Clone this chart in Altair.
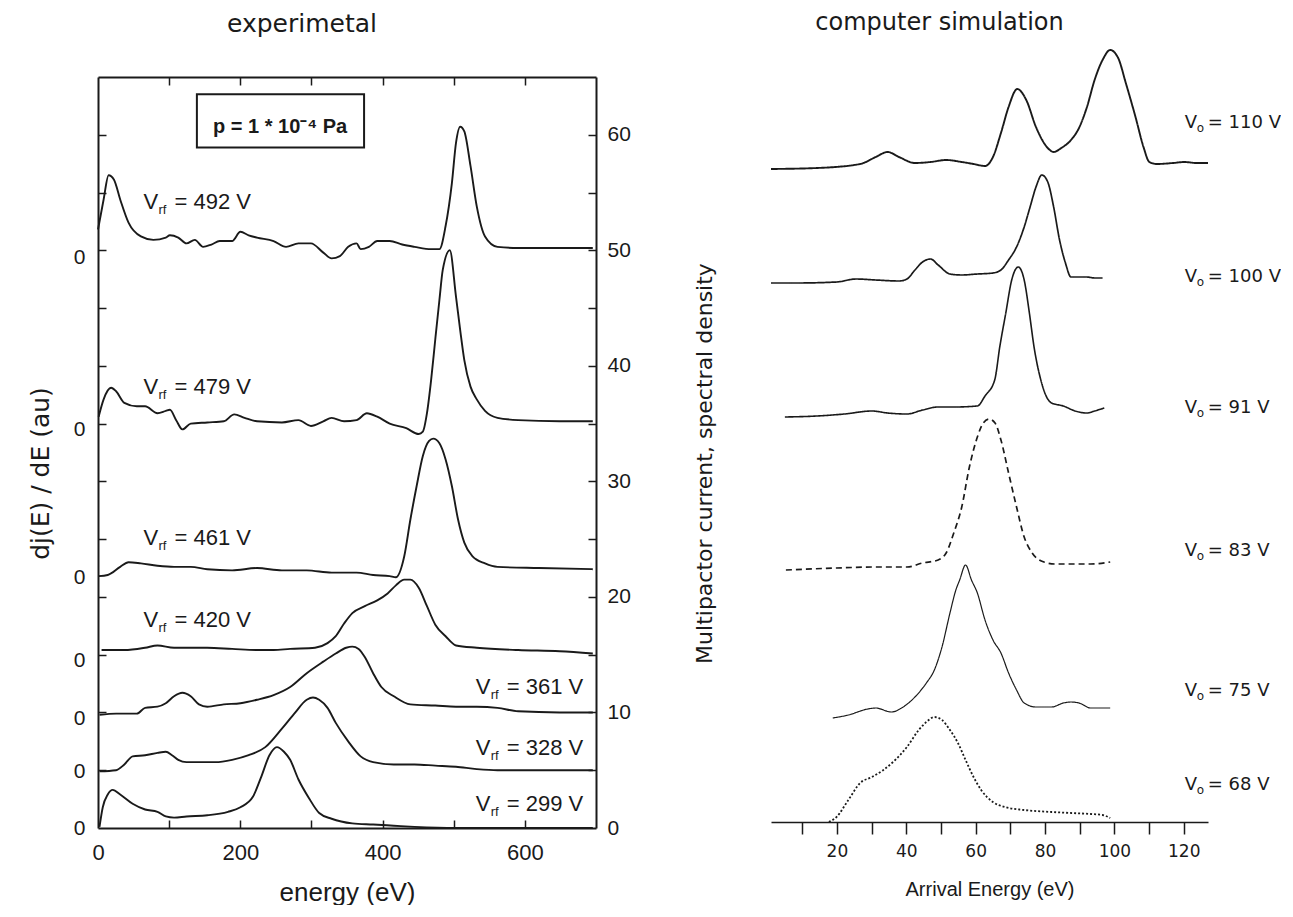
import altair as alt
import pandas as pd

INK = "#1a1a1a"
SANS = "Liberation Sans"
WIDE = "DejaVu Sans"

# ---------------- left panel: experimental spectra (energy in eV, offset spectra on right axis) ----------------
e492 = [0, 7.9, 14.9, 22.5, 31.2, 42.9, 60.3, 77.8, 95.3, 101.1, 112.8, 124.4, 136.1, 147.7, 159.4, 171.1, 188.5, 200.2, 211.8, 223.5,
        246.8, 264.3, 281.8, 299.3, 316.7, 328.4, 340.0, 351.7, 363.4, 369.2, 380.8, 392.5, 410.0, 427.5, 444.9, 468.3, 479.9, 488.6, 497.4, 503.2,
        509.1, 514.9, 523.6, 532.4, 544.0, 561.5, 590.6, 619.8, 648.9, 695.5]
v492 = [51.8, 54.4, 56.5, 56.1, 54.4, 52.4, 51.2, 50.9, 51.1, 51.3, 51.1, 50.6, 50.9, 50.3, 50.5, 50.8, 50.8, 51.6, 51.3, 51.1,
        50.8, 50.3, 50.6, 50.6, 49.8, 49.3, 49.5, 50.3, 50.6, 50.1, 50.3, 50.8, 50.8, 50.5, 50.3, 50.1, 50.1, 52.1, 55.8, 59.3,
        60.7, 60.3, 57.3, 53.8, 51.2, 50.3, 50.2, 50.2, 50.2, 50.2]
e479 = [0.9, 7.9, 18.4, 25.4, 37.0, 54.5, 66.2, 83.6, 95.3, 101.1, 109.9, 118.6, 130.3, 153.6, 176.9, 191.5, 206.0, 223.5, 258.5, 281.8,
        299.3, 316.7, 328.4, 345.9, 363.4, 377.9, 392.5, 410.0, 433.3, 450.8, 456.6, 462.4, 468.3, 474.1, 479.9, 484.6, 494.5, 503.2, 509.1, 514.9,
        523.6, 532.4, 544.0, 561.5, 590.6, 648.9, 695.5]
v479 = [35.6, 37.1, 38.1, 37.8, 36.8, 36.5, 36.5, 35.9, 36.1, 36.2, 35.3, 34.5, 35.0, 35.1, 35.2, 35.8, 35.5, 35.2, 35.1, 35.3,
        34.8, 35.2, 35.5, 35.2, 35.3, 35.9, 35.6, 35.0, 34.6, 34.1, 34.3, 35.9, 38.8, 42.3, 45.7, 48.3, 50.0, 46.0, 43.1, 40.5,
        38.2, 37.1, 36.1, 35.5, 35.3, 35.2, 35.2]
e461 = [0.9, 13.7, 31.2, 42.9, 60.3, 83.6, 106.9, 130.3, 153.6, 188.5, 223.5, 258.5, 293.4, 328.4, 363.4, 386.7, 410.0, 418.7, 430.4, 439.1,
        447.9, 456.6, 465.4, 471.2, 479.9, 488.6, 497.4, 506.1, 514.9, 526.5, 544.0, 561.5, 619.8, 695.5]
v461 = [21.8, 21.9, 22.6, 23.0, 22.9, 22.7, 22.6, 22.6, 22.4, 22.3, 22.5, 22.3, 22.3, 22.1, 22.1, 21.9, 21.8, 21.7, 23.5, 26.7,
        29.6, 32.2, 33.5, 33.7, 33.3, 31.9, 29.6, 26.7, 24.7, 23.5, 22.9, 22.6, 22.5, 22.4]
e420 = [5.0, 37.0, 66.2, 83.6, 106.9, 153.6, 188.5, 223.5, 246.8, 270.1, 305.1, 322.6, 334.2, 345.9, 357.5, 375.0, 392.5, 407.1, 418.7, 430.4,
        439.1, 450.8, 462.4, 474.1, 488.6, 503.2, 532.4, 590.6, 648.9, 695.5]
v420 = [15.4, 15.4, 15.6, 15.8, 15.6, 15.6, 15.5, 15.4, 15.4, 15.5, 15.6, 16.0, 16.6, 17.7, 18.6, 19.2, 19.7, 20.3, 21.0, 21.5,
        21.5, 20.8, 19.2, 17.6, 16.6, 15.8, 15.6, 15.4, 15.3, 15.1]
e361 = [2.1, 25.4, 54.5, 66.2, 83.6, 95.3, 106.9, 118.6, 130.3, 141.9, 153.6, 176.9, 200.2, 223.5, 246.8, 270.1, 293.4, 316.7, 334.2, 348.8,
        357.5, 366.3, 375.0, 386.7, 398.3, 415.8, 439.1, 474.1, 503.2, 532.4, 561.5, 590.6, 648.9, 695.5]
v361 = [9.8, 9.9, 9.9, 10.4, 10.5, 10.8, 11.4, 11.7, 11.4, 10.7, 10.5, 10.7, 10.8, 11.1, 11.5, 12.2, 13.4, 14.4, 15.1, 15.6,
        15.7, 15.5, 14.8, 13.4, 12.2, 11.4, 10.7, 10.6, 10.5, 10.5, 10.4, 10.1, 10.0, 10.0]
e328 = [2.1, 25.4, 37.0, 48.7, 66.2, 83.6, 95.3, 104.0, 112.8, 124.4, 141.9, 165.2, 188.5, 211.8, 235.2, 258.5, 275.9, 293.4, 302.2, 310.9,
        322.6, 334.2, 351.7, 369.2, 386.7, 415.8, 444.9, 474.1, 503.2, 532.4, 561.5, 619.8, 695.5]
v328 = [4.9, 5.0, 5.5, 6.2, 6.3, 6.5, 6.6, 6.3, 5.9, 5.7, 5.7, 5.7, 5.9, 6.3, 7.0, 8.6, 9.9, 11.1, 11.3, 11.1,
        10.4, 9.1, 7.5, 6.2, 5.7, 5.5, 5.5, 5.4, 5.3, 5.1, 5.0, 5.0, 5.0]
e299 = [2.1, 6.7, 13.7, 20.7, 31.2, 48.7, 66.2, 83.6, 95.3, 106.9, 124.4, 153.6, 182.7, 200.2, 217.7, 229.3, 241.0, 251.5, 261.4, 270.1,
        281.8, 296.4, 310.9, 328.4, 357.5, 386.7, 415.8, 444.9, 503.2, 561.5, 619.8, 695.5]
v299 = [0.1, 1.8, 2.9, 3.3, 2.9, 2.1, 1.6, 1.4, 1.0, 0.9, 1.0, 1.1, 1.4, 1.8, 2.7, 4.4, 6.3, 7.0, 6.6, 5.9,
        4.2, 2.6, 1.3, 0.8, 0.4, 0.3, 0.2, 0.1, 0.0, 0.0, 0.0, 0.0]

rf_names = ["492", "479", "461", "420", "361", "328", "299"]
rf_E = [e492, e479, e461, e420, e361, e328, e299]
rf_V = [v492, v479, v461, v420, v361, v328, v299]

# curve labels (left edge energy, vertical position on right axis)
rf_label_E = [64, 64, 64, 64, 531, 531, 531]
rf_label_V = [54.2, 38.2, 25.1, 18.0, 12.2, 6.9, 2.1]
rf_label_rest = ["= 492 V", "= 479 V", "= 461 V", "= 420 V", "= 361 V", "= 328 V", "= 299 V"]

# the "0" marks of each spectrum's own zero line on the left axis
zero_positions = [0, 4.9, 9.5, 14.5, 21.7, 34.5, 49.4]
right_ticks = [0, 10, 20, 30, 40, 50, 60]
minor_ticks = [5, 10, 15, 20, 25, 30, 35, 40, 45, 50, 55, 60]
energy_labels = [0, 200, 400, 600]
energy_ticks = [100, 200, 300, 400, 500, 600]

# pressure box
box_E = [139, 374]
box_V = [58.9, 63.5]
box_text = "p = 1 * 10\u207b\u2074 Pa"
box_text_pos = [256, 60.7]

# ---------------- right panel: computer simulation ----------------
e110 = [1.0, 14.3, 26.7, 31.2, 34.6, 37.9, 42.5, 47.0, 51.5, 56.0, 59.4, 62.7, 65.0, 67.3, 69.5, 72.0, 74.6, 77.4, 80.8, 82.5,
        84.7, 87.5, 89.8, 92.1, 94.3, 96.6, 98.8, 101.1, 103.3, 106.1, 108.4, 110.1, 112.3, 116.9, 120.2, 123.6, 127.0]
y110 = [65.3, 65.4, 65.8, 66.5, 67.0, 66.5, 65.9, 66.0, 66.2, 66.0, 65.8, 65.6, 66.5, 68.9, 71.5, 73.3, 72.2, 69.5, 67.4, 67.0,
        67.4, 68.2, 69.4, 71.5, 74.2, 76.2, 77.2, 76.4, 73.9, 70.5, 67.5, 66.0, 65.8, 65.9, 66.0, 65.9, 65.9]
e100 = [1.0, 8.6, 19.9, 25.5, 31.2, 37.9, 40.2, 42.5, 44.7, 47.0, 49.2, 52.6, 56.0, 60.5, 65.0, 67.3, 69.5, 71.8, 74.0, 75.7,
        77.4, 79.1, 80.8, 82.5, 84.2, 85.9, 87.5, 89.8, 92.1, 94.3, 96.6]
y100 = [53.9, 53.9, 54.0, 54.3, 54.2, 54.1, 54.3, 55.2, 56.0, 56.3, 55.7, 54.8, 54.7, 54.8, 54.9, 55.2, 56.2, 57.5, 59.5, 61.5,
        63.5, 64.7, 64.0, 61.5, 58.2, 55.9, 54.5, 54.5, 54.5, 54.4, 54.4]
e91 = [5.0, 14.3, 22.2, 30.1, 34.6, 40.2, 44.7, 49.2, 53.7, 60.5, 62.7, 65.5, 67.0, 68.7, 70.4, 72.3, 74.0, 75.5, 76.8, 78.8,
       80.2, 81.9, 85.3, 88.7, 92.1, 94.3, 97.1]
y91 = [40.5, 40.6, 40.8, 41.1, 40.9, 40.8, 41.2, 41.5, 41.5, 41.6, 42.6, 44.2, 47.6, 50.9, 54.2, 55.5, 54.2, 50.9, 47.6, 44.2,
       42.7, 41.9, 41.6, 41.1, 40.9, 41.1, 41.4]
e83 = [5.3, 19.9, 31.2, 40.2, 44.7, 49.2, 51.5, 53.7, 56.0, 58.2, 60.5, 62.2, 63.9, 65.6, 67.3, 69.5, 71.8, 74.0, 76.3, 79.7,
       83.0, 87.5, 93.2, 98.8]
y83 = [25.2, 25.4, 25.5, 25.5, 25.9, 26.2, 26.9, 28.9, 31.5, 35.5, 38.5, 39.9, 40.3, 39.9, 38.2, 34.9, 31.5, 28.5, 26.9, 26.0,
       25.8, 25.8, 25.8, 26.0]
e75 = [18.8, 23.3, 28.9, 31.2, 35.7, 39.1, 42.5, 45.8, 48.1, 50.3, 52.6, 54.3, 55.4, 57.1, 58.8, 60.5, 62.7, 65.0, 67.3, 69.5,
       71.8, 74.0, 77.4, 81.9, 85.3, 87.5, 89.8, 93.2, 98.8]
y75 = [10.4, 10.7, 11.3, 11.4, 11.0, 11.5, 12.5, 13.9, 15.2, 17.5, 20.9, 23.2, 24.2, 25.7, 24.2, 22.9, 20.2, 18.2, 16.9, 14.9,
       13.2, 11.9, 11.5, 11.5, 11.9, 12.0, 11.9, 11.4, 11.4]
e68 = [17.7, 19.9, 23.3, 26.7, 30.1, 33.4, 36.8, 40.2, 43.6, 45.8, 48.1, 50.3, 52.6, 54.9, 57.1, 59.4, 61.6, 65.0, 68.4, 74.0,
       81.9, 87.5, 93.2, 96.6, 98.8]
y68 = [0.0, 0.5, 2.2, 3.9, 4.5, 5.2, 6.2, 7.5, 9.2, 10.0, 10.5, 10.2, 9.2, 7.9, 6.2, 4.5, 3.2, 2.0, 1.5, 1.2,
       1.0, 0.9, 0.8, 0.7, 0.4]

vo_names = ["110", "100", "91", "83", "75", "68"]
vo_E = [e110, e100, e91, e83, e75, e68]
vo_Y = [y110, y100, y91, y83, y75, y68]
vo_style = ["solid", "solid", "solid", "dashed", "solid", "dotted"]
vo_width = [1.9, 1.7, 1.6, 1.7, 1.2, 1.8]

vo_label_E = [120.3, 120.3, 120.3, 120.3, 120.3, 120.3]
vo_label_Y = [69.9, 54.5, 41.4, 27.1, 13.1, 3.7]
vo_label_rest = ["= 110 V", "= 100 V", "= 91 V", "= 83 V", "= 75 V", "= 68 V"]
sim_labels = [20, 40, 60, 80, 100, 120]
sim_ticks = [10, 20, 30, 40, 50, 60, 70, 80, 90, 100, 110, 120]

# ---------------- tables ----------------
rows = []
for name, es, vs in zip(rf_names, rf_E, rf_V):
    for e, v in zip(es, vs):
        rows.append({"E": e, "V": v, "curve": name})
left_df = pd.DataFrame(rows)
left_lab = pd.DataFrame({"E": rf_label_E, "V": rf_label_V, "rest": rf_label_rest})
box_df = pd.DataFrame({"E0": [box_E[0]], "E1": [box_E[1]], "V0": [box_V[0]], "V1": [box_V[1]],
                       "tE": [box_text_pos[0]], "tV": [box_text_pos[1]], "txt": [box_text]})

rows = []
for name, es, ys, st, w in zip(vo_names, vo_E, vo_Y, vo_style, vo_width):
    for e, y in zip(es, ys):
        rows.append({"E": e, "Y": y, "curve": name, "style": st, "w": w})
right_df = pd.DataFrame(rows)
right_lab = pd.DataFrame({"E": vo_label_E, "Y": vo_label_Y, "rest": vo_label_rest})

# ---------------- geometry ----------------
W_L, H_L = 498, 751
W_R, H_R = 437, 745

xL = alt.Scale(domain=[0, 700], nice=False, zero=False)
yL = alt.Scale(domain=[0, 65], nice=False, zero=False)
xR = alt.Scale(domain=[1, 127], nice=False, zero=False)
yR = alt.Scale(domain=[0, 74.5], nice=False, zero=False)

common = dict(grid=False, domainColor=INK, tickColor=INK, labelColor=INK, titleColor=INK,
              labelFlush=False, labelOverlap=False, minExtent=0)

# ---- left panel layers ----
curves_left = alt.Chart(left_df).mark_line(color=INK, strokeWidth=1.9, interpolate="monotone").encode(
    x=alt.X("E:Q", scale=xL, axis=alt.Axis(
        orient="bottom", values=energy_labels, ticks=False, tickSize=0, domain=True, domainWidth=2,
        labelFont=SANS, labelFontSize=22, labelPadding=14, format="d",
        title="energy (eV)", titleFont=SANS, titleFontSize=26, titleFontWeight="normal", titlePadding=16, **common)),
    y=alt.Y("V:Q", scale=yL, axis=alt.Axis(
        orient="right", values=right_ticks, ticks=False, tickSize=0, domain=True, domainWidth=2,
        labelFont=SANS, labelFontSize=21, labelPadding=11, title=None, **common)),
    detail="curve:N",
)

v_left = alt.Chart(left_lab).mark_text(text="V", font=SANS, fontSize=22, align="left", baseline="middle", color=INK).encode(
    x=alt.X("E:Q", scale=xL, axis=alt.Axis(
        orient="bottom", offset=-H_L, values=energy_ticks, labels=False, ticks=True, tickSize=8, tickWidth=1.5,
        domain=True, domainWidth=2, title=None, **common)),
    y=alt.Y("V:Q", scale=yL, axis=alt.Axis(
        orient="left", values=zero_positions, labelExpr="'0'", ticks=False, tickSize=0, domain=True, domainWidth=2,
        labelFont=SANS, labelFontSize=21, labelPadding=13,
        title="dj(E) / dE (au)", titleFont=WIDE, titleFontSize=25, titleFontWeight="normal",
        titlePadding=20, titleY=396, **common)),
)

sub_left = alt.Chart(left_lab).mark_text(text="rf", font=SANS, fontSize=13, align="left", baseline="middle",
                                         dx=15, dy=8, color=INK).encode(
    x=alt.X("E:Q", scale=xL, axis=alt.Axis(
        orient="top", offset=-H_L, values=energy_ticks, labels=False, ticks=True, tickSize=8, tickWidth=1.5,
        domain=False, title=None, **common)),
    y=alt.Y("V:Q", scale=yL, axis=alt.Axis(
        orient="right", offset=-W_L, values=minor_ticks, labels=False, ticks=True, tickSize=8, tickWidth=1.5,
        domain=False, title=None, **common)),
)

rest_left = alt.Chart(left_lab).mark_text(font=SANS, fontSize=22, align="left", baseline="middle",
                                          dx=31, color=INK).encode(
    x=alt.X("E:Q", scale=xL, axis=None),
    y=alt.Y("V:Q", scale=yL, axis=alt.Axis(
        orient="left", offset=-W_L, values=minor_ticks, labels=False, ticks=True, tickSize=8, tickWidth=1.5,
        domain=False, title=None, **common)),
    text="rest:N",
)

box_rect = alt.Chart(box_df).mark_rect(fill="white", stroke=INK, strokeWidth=2).encode(
    x=alt.X("E0:Q", scale=xL, axis=None), x2="E1:Q",
    y=alt.Y("V0:Q", scale=yL, axis=None), y2="V1:Q",
)
box_txt = alt.Chart(box_df).mark_text(font=SANS, fontSize=20, fontWeight="bold", align="center",
                                      baseline="middle", color=INK).encode(
    x=alt.X("tE:Q", scale=xL, axis=None),
    y=alt.Y("tV:Q", scale=yL, axis=None),
    text="txt:N",
)

left = alt.layer(curves_left, box_rect, box_txt, v_left, sub_left, rest_left).resolve_axis(
    x="independent", y="independent"
).properties(
    width=W_L, height=H_L,
    title=alt.TitleParams("experimetal", font=WIDE, fontSize=25, fontWeight="normal", color=INK,
                          offset=39, frame="group", anchor="middle", dx=-45),
)

# ---- right panel layers ----
curves_right = alt.Chart(right_df).mark_line(color=INK, interpolate="monotone").encode(
    x=alt.X("E:Q", scale=xR, axis=alt.Axis(
        orient="bottom", values=sim_ticks,
        labelExpr="indexof(" + str(sim_labels) + ", datum.value) >= 0 ? datum.label : ''",
        tickSize=12, tickWidth=1.5, domainWidth=1.6, labelFont=WIDE, labelFontSize=17, labelPadding=9,
        title="Arrival Energy (eV)", titleFont=SANS, titleFontSize=20, titleFontWeight="normal", titlePadding=20,
        **common)),
    y=alt.Y("Y:Q", scale=yR, axis=alt.Axis(
        orient="left", labels=False, ticks=False, domain=False,
        title="Multipactor current, spectral density", titleFont=WIDE, titleFontSize=22, titleFontWeight="normal",
        titlePadding=55, titleY=386, titleColor=INK, grid=False, minExtent=0)),
    detail="curve:N",
    strokeDash=alt.StrokeDash("style:N", scale=alt.Scale(domain=["solid", "dashed", "dotted"],
                                                         range=[[1, 0], [6, 4], [2, 2]]), legend=None),
    strokeWidth=alt.StrokeWidth("w:Q", scale=None),
)

v_right = alt.Chart(right_lab).mark_text(text="V", font=WIDE, fontSize=18, align="left", baseline="middle",
                                         color=INK).encode(
    x=alt.X("E:Q", scale=xR, axis=None), y=alt.Y("Y:Q", scale=yR, axis=None))
sub_right = alt.Chart(right_lab).mark_text(text="o", font=WIDE, fontSize=12, align="left", baseline="middle",
                                           dx=12, dy=5, color=INK).encode(
    x=alt.X("E:Q", scale=xR, axis=None), y=alt.Y("Y:Q", scale=yR, axis=None))
rest_right = alt.Chart(right_lab).mark_text(font=WIDE, fontSize=18, align="left", baseline="middle",
                                            dx=23, color=INK).encode(
    x=alt.X("E:Q", scale=xR, axis=None), y=alt.Y("Y:Q", scale=yR, axis=None), text="rest:N")

right = alt.layer(curves_right, v_right, sub_right, rest_right).resolve_axis(
    x="independent", y="independent"
).properties(
    width=W_R, height=H_R,
    title=alt.TitleParams("computer simulation", font=WIDE, fontSize=24, fontWeight="normal", color=INK,
                          offset=11, frame="group", anchor="middle", dx=-50),
)

chart = alt.hconcat(left, right, spacing=175, bounds="flush").properties(
    padding={"left": 20, "top": 3, "right": 0, "bottom": 0},
    background="white",
).configure_view(strokeWidth=0, stroke="transparent")

chart.save("out.html", embed_options={"renderer": "svg", "actions": False})
